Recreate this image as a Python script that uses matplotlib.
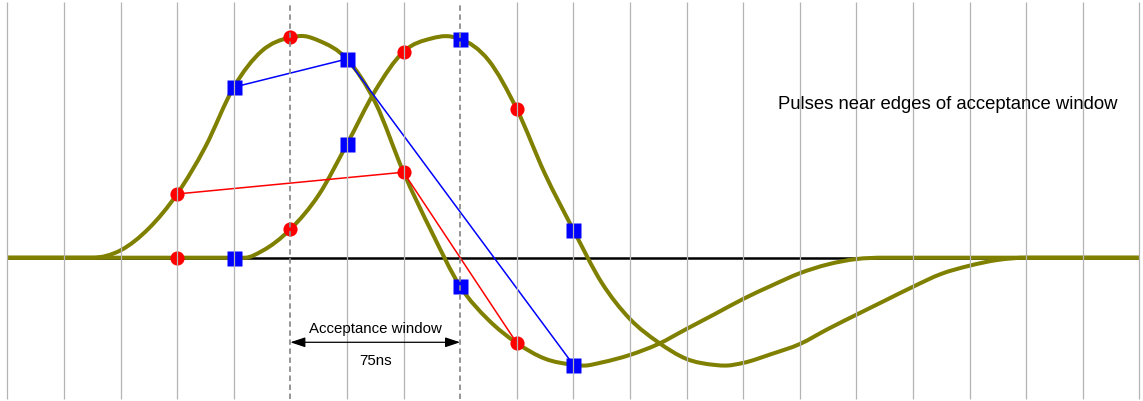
import numpy as np
import matplotlib
matplotlib.use("Agg")
import matplotlib.pyplot as plt
from matplotlib.path import Path
from matplotlib.patches import PathPatch

plt.rcParams['font.family'] = ['Liberation Sans', 'DejaVu Sans']

# Time is measured in 25 ns sample periods; amplitude is normalised to the pulse peak.
grid_ticks = list(range(0, 21))
window_edges = [5, 8]          # 75 ns acceptance window
window_label = "Acceptance window"
window_width_label = "75ns"
title_text = "Pulses near edges of acceptance window"

# Shaped bipolar pulse, early arrival
pulse1_t = [0.0, 1.0, 1.5, 2.0, 2.5, 3.0, 3.5, 4.0, 4.5, 5.0, 5.25, 5.5, 6.0, 6.5,
            7.0, 7.5, 8.0, 8.5, 9.0, 9.5, 10.0, 10.2, 10.5, 11.0, 11.5, 12.0, 12.5,
            13.0, 13.5, 14.0, 14.5, 15.0, 15.5, 20.0]
pulse1_v = [0.0, 0.0, 0.0, 0.033, 0.132, 0.287, 0.50, 0.768, 0.932, 0.992, 0.998, 0.978,
            0.895, 0.70, 0.385, 0.115, -0.129, -0.28, -0.384, -0.455, -0.482, -0.486,
            -0.472, -0.438, -0.389, -0.321, -0.254, -0.186, -0.126, -0.07, -0.03,
            -0.006, 0.0, 0.0]

# Same pulse, late arrival
pulse2_t = [0.0, 4.0, 4.2, 4.5, 5.0, 5.5, 6.0, 6.5, 7.0, 7.5, 7.75, 8.0, 8.5, 9.0,
            9.5, 10.0, 10.5, 11.0, 11.5, 12.0, 12.5, 12.7, 13.0, 13.5, 14.0, 14.5,
            15.0, 15.5, 16.0, 16.5, 17.0, 17.5, 18.0, 20.0]
pulse2_v = [0.0, 0.0, 0.0, 0.03, 0.128, 0.282, 0.511, 0.752, 0.928, 0.988, 0.998, 0.986,
            0.89, 0.67, 0.377, 0.126, -0.112, -0.276, -0.381, -0.456, -0.483, -0.486,
            -0.474, -0.434, -0.389, -0.321, -0.257, -0.194, -0.131, -0.073, -0.036,
            -0.01, 0.0, 0.0]

# ADC samples taken on both pulses (odd periods red, even periods blue)
sample_t = [3, 4, 5, 6, 7, 8, 9, 10]
pulse1_samples = [0.287, 0.768, 0.992, 0.895, 0.385, -0.129, -0.384, -0.482]
pulse2_samples = [0.0, 0.0, 0.128, 0.511, 0.928, 0.986, 0.67, 0.126]

# Sample periods joined by the red and blue traces on the early pulse
red_trace_t = [3, 7, 9]
blue_trace_t = [4, 6, 10]

OLIVE = "#808000"
RED = "#ff0000"
BLUE = "#0000ff"


def smooth_path(x, y):
    """Cubic Hermite curve through the knots (Bezier form); flat runs stay flat."""
    x = np.asarray(x, float)
    y = np.asarray(y, float)
    h = np.diff(x)
    s = np.diff(y) / h
    n = len(x)
    m = np.zeros(n)
    for i in range(1, n - 1):
        if s[i - 1] == 0 or s[i] == 0:
            m[i] = 0.0
        else:
            m[i] = (s[i - 1] * h[i] + s[i] * h[i - 1]) / (h[i - 1] + h[i])
    verts = [(x[0], y[0])]
    codes = [Path.MOVETO]
    for i in range(n - 1):
        d = h[i] / 3
        verts += [(x[i] + d, y[i] + m[i] * d),
                  (x[i + 1] - d, y[i + 1] - m[i + 1] * d),
                  (x[i + 1], y[i + 1])]
        codes += [Path.CURVE4] * 3
    return Path(verts, codes)


fig = plt.figure(figsize=(11.43, 4.02), dpi=100)
ax = fig.add_axes([0, 0, 1, 1])
ax.set_xlim(-0.129, 20.065)
ax.set_ylim(-0.6455, 1.1653)
ax.axis("off")

# Baseline
ax.plot([grid_ticks[0], grid_ticks[-1]], [0, 0], color="black", lw=1.8, zorder=2,
        solid_capstyle="butt")

# Pulse shapes
for t, v in ((pulse1_t, pulse1_v), (pulse2_t, pulse2_v)):
    ax.add_patch(PathPatch(smooth_path(t, v), fill=False, edgecolor=OLIVE,
                           lw=2.9, zorder=3, capstyle="butt", joinstyle="round"))

# Traces through selected samples of the early pulse
p1 = dict(zip(sample_t, pulse1_samples))
ax.plot(red_trace_t, [p1[t] for t in red_trace_t], color=RED, lw=1.1, zorder=4)
ax.plot(blue_trace_t, [p1[t] for t in blue_trace_t], color=BLUE, lw=1.1, zorder=4)

# Sample markers
for samples in (pulse1_samples, pulse2_samples):
    for t, v in zip(sample_t, samples):
        if t % 2:
            ax.plot(t, v, "o", ms=10.2, color=RED, mec="none", zorder=5)
        else:
            ax.plot(t, v, "s", ms=10.8, color=BLUE, mec="none", zorder=5)

# Sample-period grid and acceptance window edges
plain = [g for g in grid_ticks if g not in window_edges]
ax.vlines(plain, -0.636, 1.150, color="#b4b4b4", lw=0.9, zorder=10)
ax.vlines(window_edges, -0.636, 1.150, color="#8c8c8c", lw=1.3,
          linestyles=(0, (3, 2)), zorder=10)

# Acceptance window annotation
y_arrow = -0.381
ax.annotate("", xy=(window_edges[0], y_arrow), xytext=(window_edges[1], y_arrow),
            arrowprops=dict(arrowstyle="<|-|>,head_length=0.9,head_width=0.3",
                            color="black", lw=0.9, shrinkA=0, shrinkB=0),
            zorder=11)
mid = (window_edges[0] + window_edges[1]) / 2
ax.text(mid, -0.336, window_label, ha="center", va="baseline", fontsize=10.8,
        zorder=11)
ax.text(mid, -0.479, window_width_label, ha="center", va="baseline", fontsize=10.8,
        zorder=11)

ax.text(16.611, 0.674, title_text, ha="center", va="baseline", fontsize=13.3,
        zorder=11)

fig.savefig("out.png", dpi=100)
